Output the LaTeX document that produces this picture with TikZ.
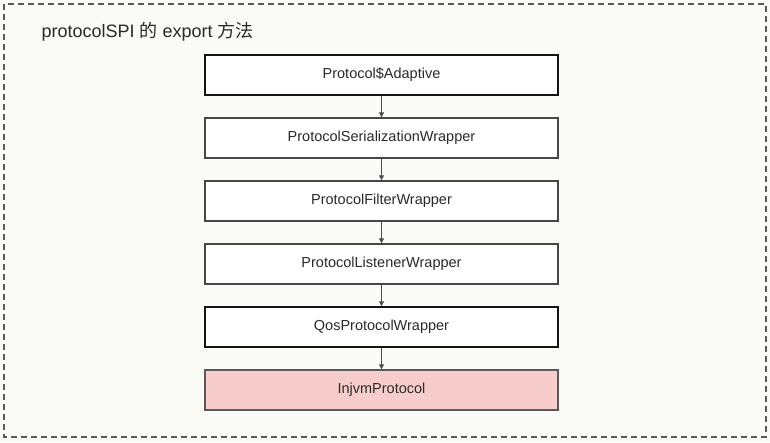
\documentclass[tikz,border=0pt]{standalone}
\usepackage{fontspec}
\setmainfont{Liberation Sans}
\newfontfamily\cjk{Noto Sans CJK SC}
\usetikzlibrary{arrows.meta}
\definecolor{bgc}{HTML}{FAFAF7}
\definecolor{pinkfill}{HTML}{F6CDCB}
\definecolor{txtc}{HTML}{2A2A2A}
\tikzset{
  stepbox/.style={draw=black!72, line width=1.3pt, fill=white, minimum width=353pt, minimum height=40pt, inner sep=0pt, font=\fontsize{14.5}{16}\selectfont, text=txtc},
  strongbox/.style={stepbox, draw=black!92, line width=1.5pt},
  flow/.style={draw=black!70, line width=1.1pt, -{Triangle[length=5pt,width=5pt]}},
}
\begin{document}
\begin{tikzpicture}[x=1pt,y=-1pt]
\fill[bgc] (0,0) rectangle (770,442);
\useasboundingbox (0,0) rectangle (770,442);
\draw[black!65, line width=1.2pt, dash pattern=on 6pt off 4pt] (4,4) rectangle (766,437);
\node[anchor=west, font=\fontsize{18}{20}\selectfont, text=txtc] (title) at (38,32) {protocolSPI {\cjk 的} export {\cjk 方法}};
\node[strongbox] (b1) at (381.5,75) {Protocol\$Adaptive};
\node[stepbox] (b2) at (381.5,138) {ProtocolSerializationWrapper};
\node[stepbox] (b3) at (381.5,201) {ProtocolFilterWrapper};
\node[stepbox] (b4) at (381.5,264) {ProtocolListenerWrapper};
\node[strongbox] (b5) at (381.5,327) {QosProtocolWrapper};
\node[stepbox, fill=pinkfill, draw=black!65] (b6) at (381.5,390) {InjvmProtocol};
\draw[flow] (b1) -- (b2);
\draw[flow] (b2) -- (b3);
\draw[flow] (b3) -- (b4);
\draw[flow] (b4) -- (b5);
\draw[flow] (b5) -- (b6);
\end{tikzpicture}
\end{document}
